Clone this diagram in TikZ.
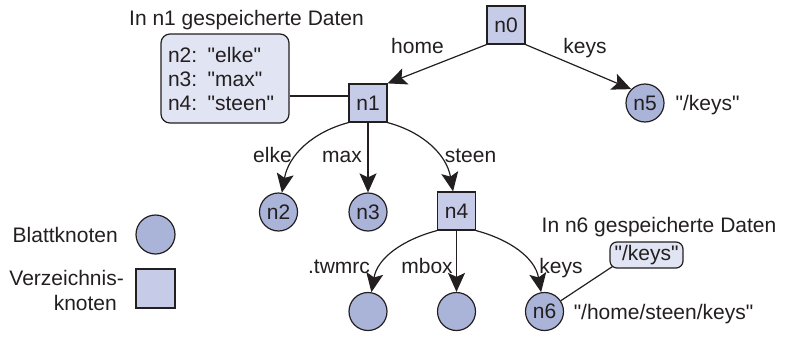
\documentclass[tikz,border=0pt]{standalone}
\usepackage{fontspec}
\setmainfont{Liberation Sans}[Ligatures=TeXOff]
\usetikzlibrary{arrows.meta}
\definecolor{leaffill}{RGB}{170,180,216}
\definecolor{dirfill}{RGB}{198,203,232}
\definecolor{datafill}{RGB}{225,228,242}
\definecolor{ink}{RGB}{35,31,32}
\begin{document}
\begin{tikzpicture}[x=1pt,y=1pt,
  font=\fontsize{21}{24}\selectfont,
  every node/.style={inner sep=0pt, text=ink},
  dirnode/.style={draw=ink, line width=1.2pt, fill=dirfill, minimum size=38pt},
  leafnode/.style={circle, draw=ink, line width=1.2pt, fill=leaffill, minimum size=38pt},
  databox/.style={draw=ink, line width=1.2pt, fill=datafill, rounded corners=9pt},
  edge/.style={draw=ink, line width=1.2pt},
  arc/.style={edge, -{Stealth[length=19pt,width=17pt,inset=4pt]}},
  lbl/.style={anchor=base},
  legendtext/.style={anchor=base east},
]
\useasboundingbox (0,0) rectangle (786,-340);

% directory tree
\node[dirnode]  (n0) at (506,-25)    {n0};
\node[dirnode]  (n1) at (368,-103)   {n1};
\node[leafnode] (n5) at (645,-103)   {n5};
\node[leafnode] (n2) at (278.5,-212) {n2};
\node[leafnode] (n3) at (368,-212)   {n3};
\node[dirnode]  (n4) at (456.5,-211) {n4};
\node[leafnode] (c1) at (368,-311.5) {};
\node[leafnode] (c2) at (456.5,-311.5) {};
\node[leafnode] (n6) at (544.5,-311.5) {n6};

% data stored in n1
\node[lbl] (t1) at (246.5,-25) {In n1 gespeicherte Daten};
\node[databox, align=left, text width=114pt, inner xsep=7pt,
      minimum height=89pt] (data1) at (225,-78.5)
  {n2: "elke"\\n3: "max"\\n4: "steen"};

% data stored in n6
\node[lbl] (t2) at (659,-232.5) {In n6 gespeicherte Daten};
\node[databox, rounded corners=7pt, minimum width=73pt, minimum height=26pt]
  (data2) at (646.5,-255) {"/keys"};

% path names
\node[lbl] (p5) at (707.5,-110) {"/keys"};
\node[lbl] (p6) at (663.5,-319) {"/home/steen/keys"};

% edge labels
\node[lbl] (lhome)  at (417.5,-53) {home};
\node[lbl] (lkeys)  at (585,-53)   {keys};
\node[lbl] (lelke)  at (272.5,-162) {elke};
\node[lbl] (lmax)   at (342,-162)  {max};
\node[lbl] (lsteen) at (470.5,-162) {steen};
\node[lbl] (ltw)    at (339,-273)  {.twmrc};
\node[lbl] (lmbox)  at (427,-273)  {mbox};
\node[lbl] (lkeys2) at (561,-273)  {keys};

% connectors
\draw[arc] (n0.south west) -- (n1.north east);
\draw[arc] (n0.south east) -- (n5.north west);
\draw[arc] (n1.south west) to[out=-165,in=80] (n2);
\draw[arc] (n1) -- (n3);
\draw[arc] (n1.south east) to[out=-15,in=100] (n4);
\draw[arc] (n4.south west) to[out=-165,in=80] (c1);
\draw[arc] (n4) -- (c2);
\draw[arc] (n4.south east) to[out=-15,in=100] (n6);
\draw[edge] ([yshift=7pt]n1.west) -- ([yshift=7pt]n1.west -| data1.east);
\draw[edge] (n6) -- ([xshift=3pt,yshift=2pt]data2.south west);

% legend
\node[legendtext] (lg1) at (118,-242) {Blattknoten};
\node[legendtext] (lg2) at (124,-285) {Verzeichnis-};
\node[legendtext] (lg3) at (117,-310) {knoten};
\node[leafnode, minimum size=39pt] (lgleaf) at (155.5,-234.5) {};
\node[dirnode, minimum size=39pt] (lgdir) at (155.5,-288.5) {};
\end{tikzpicture}
\end{document}
